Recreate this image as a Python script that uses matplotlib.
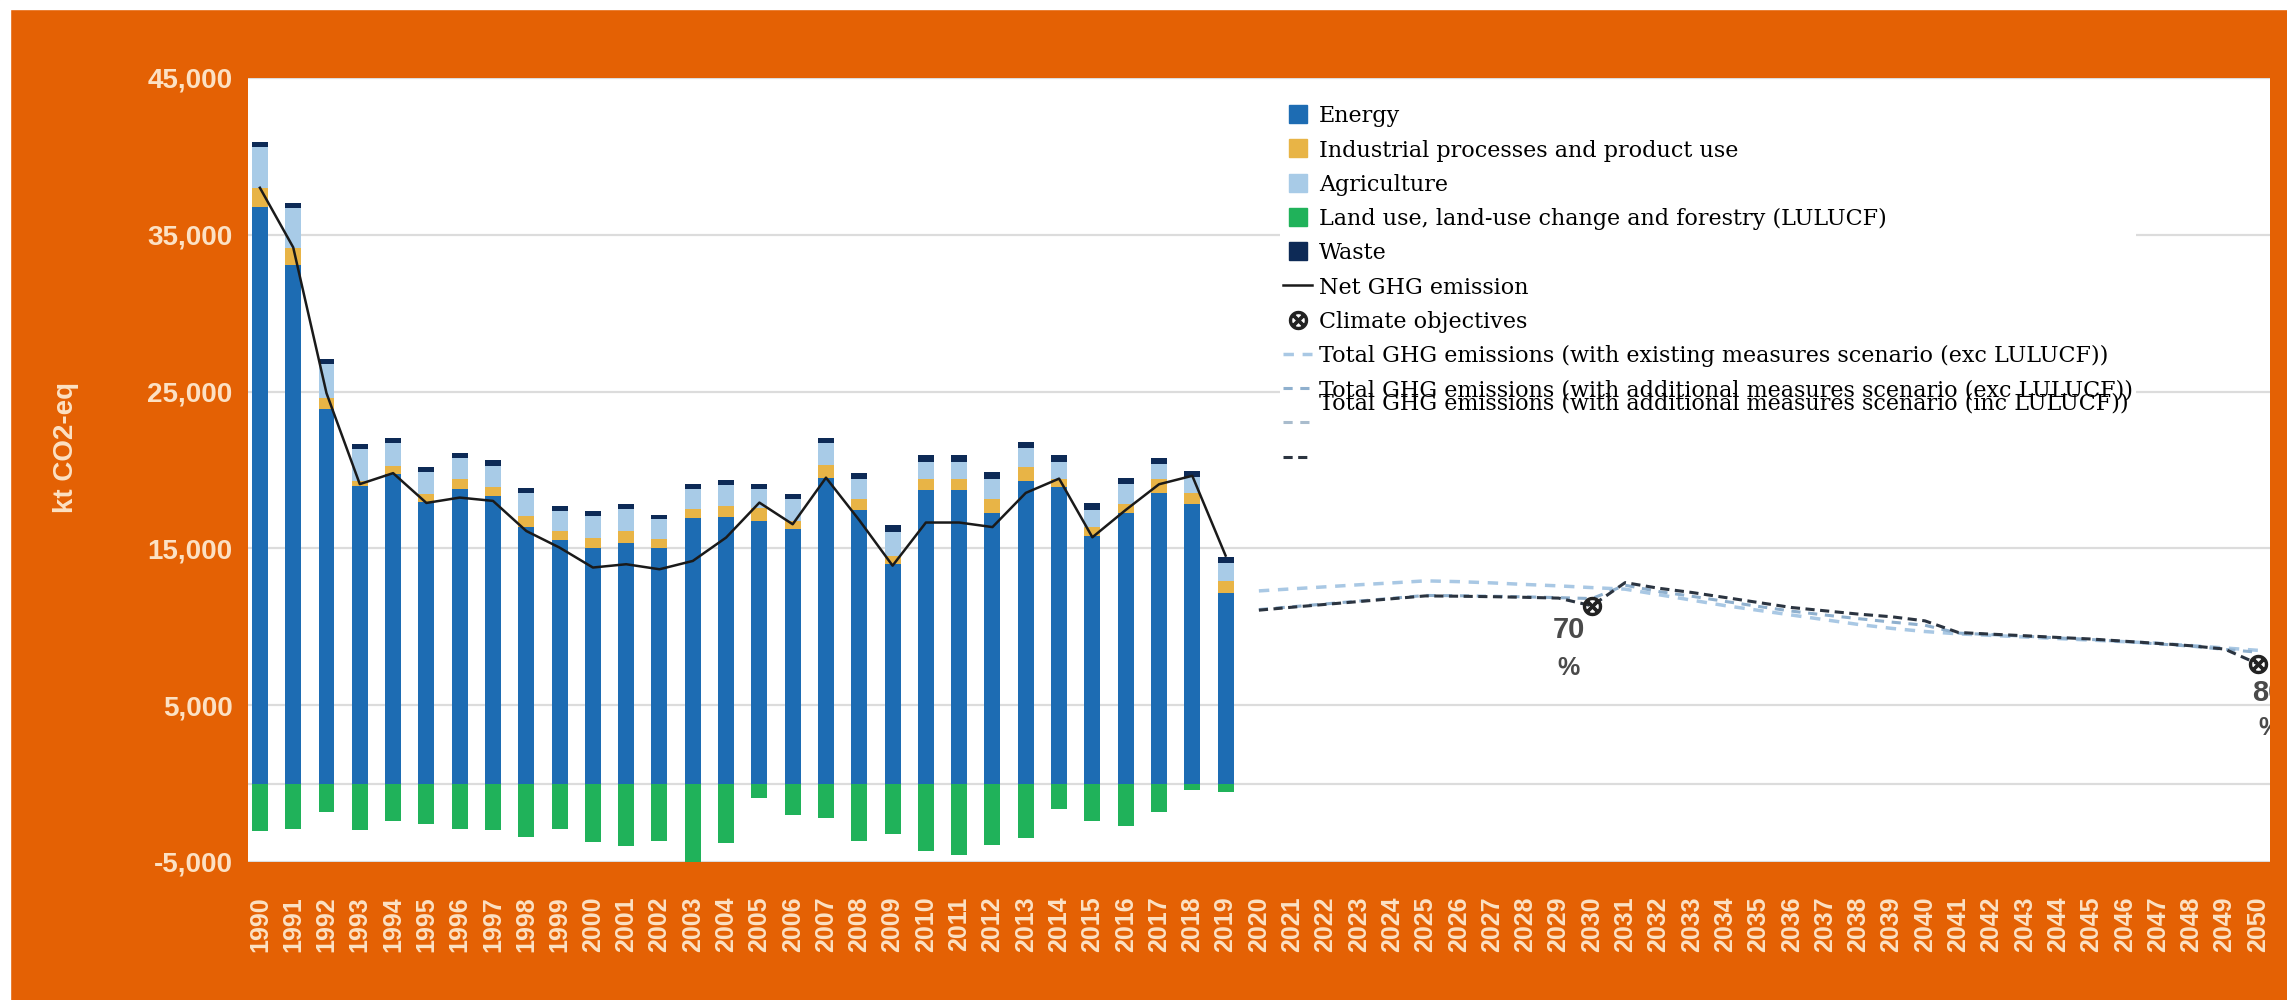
import matplotlib
matplotlib.use('Agg')  # no display
import matplotlib.pyplot as plt
from matplotlib.lines import Line2D
from matplotlib.patches import Rectangle
import numpy as np

# categories
years = list(range(1990, 2051))

# historical sectors, kt CO2-eq, 1990-2019
energy = [36800, 33100, 23900, 19000, 19750, 17980, 18770, 18340, 16370, 15520,
          15050, 15370, 15050, 16960, 17000, 16750, 16220, 19510, 17450, 14000,
          18730, 18730, 17270, 19270, 18900, 15820, 17270, 18540, 17820, 12180]
industry = [1170, 1060, 700, 300, 500, 490, 630, 580, 700, 590,
            640, 740, 530, 540, 700, 850, 530, 840, 730, 540,
            720, 720, 910, 910, 550, 540, 550, 910, 720, 730]
agriculture = [2660, 2550, 2150, 2030, 1490, 1420, 1380, 1330, 1480, 1280,
               1380, 1390, 1280, 1270, 1340, 1170, 1380, 1390, 1270, 1530,
               1090, 1090, 1270, 1200, 1090, 1090, 1270, 910, 1020, 1160]
waste = [320, 320, 320, 320, 320, 300, 320, 360, 320, 310,
         320, 310, 270, 320, 300, 320, 320, 320, 380, 400,
         420, 420, 400, 400, 420, 420, 420, 420, 400, 400]
lulucf = [-3000, -2880, -1830, -2990, -2360, -2570, -2880, -2990, -3420, -2880,
          -3740, -3950, -3670, -5000, -3820, -910, -2000, -2180, -3640, -3200,
          -4290, -4550, -3930, -3450, -1640, -2360, -2730, -1820, -440, -545]
net_ghg = [38000, 34200, 24900, 19100, 19800, 17900, 18240, 18030, 16110, 15050,
           13780, 13990, 13670, 14200, 15690, 17920, 16540, 19510, 16800, 13900,
           16650, 16650, 16360, 18540, 19450, 15710, 17450, 19090, 19630, 14540]

# projections 2020-2050
wem_exc = [12290, 12420, 12550, 12680, 12800, 12930, 12880, 12800, 12700, 12610,
           12500, 12400, 12050, 11700, 11350, 11050, 10750, 10450, 10150, 9900,
           9700, 9550, 9450, 9350, 9250, 9150, 9050, 8950, 8800, 8650, 8500]
wam_exc = [11100, 11280, 11460, 11640, 11820, 12000, 11980, 11950, 11910, 11860,
           11800, 12650, 12250, 11950, 11620, 11300, 11000, 10750, 10520, 10300,
           10100, 9600, 9500, 9400, 9290, 9190, 9050, 8910, 8760, 8560, 8380]
wam_net = [11060, 11250, 11430, 11610, 11790, 11970, 11950, 11920, 11880, 11830,
           11340, 12820, 12460, 12190, 11870, 11550, 11230, 11020, 10810, 10640,
           10380, 9640, 9530, 9430, 9320, 9220, 9080, 8940, 8790, 8580, 7640]

# climate objectives
goal_years = [2030, 2050]
goal_values = [11340, 7640]
goal_labels = ['70', '80']

ORANGE = '#E46104'
PEACH = '#FCE1C4'
C_ENERGY = '#1D6CB3'
C_IND = '#E8B446'
C_AGR = '#A8CBE7'
C_LUL = '#20B25A'
C_WASTE = '#0D2A56'

x_hist = np.arange(len(energy))
x_proj = np.arange(len(energy), len(years))
width = 0.48

fig = plt.figure(figsize=(22.87, 10), dpi=100, facecolor=ORANGE)
fig.patches.append(Rectangle((0, 0.991), 1, 0.009, transform=fig.transFigure,
                             color='white', zorder=0))
fig.patches.append(Rectangle((0, 0), 10 / 2287, 1, transform=fig.transFigure,
                             color='white', zorder=0))

ax = fig.add_axes([0.1084, 0.138, 0.8841, 0.784])
ax.set_facecolor('white')

e = np.array(energy)
i = np.array(industry)
a = np.array(agriculture)
ax.bar(x_hist, energy, width, color=C_ENERGY, zorder=3)
ax.bar(x_hist, industry, width, bottom=e, color=C_IND, zorder=3)
ax.bar(x_hist, agriculture, width, bottom=e + i, color=C_AGR, zorder=3)
ax.bar(x_hist, waste, width, bottom=e + i + a, color=C_WASTE, zorder=3)
ax.bar(x_hist, lulucf, width, color=C_LUL, zorder=3)

ax.plot(x_hist, net_ghg, color='#1a1a1a', lw=1.8, zorder=4)

ax.plot(x_proj, wem_exc, color='#A9C8E4', lw=2.5, ls=(0, (3, 2.5)), zorder=4)
ax.plot(x_proj, wam_exc, color='#8FB0CE', lw=2.2, ls=(0, (3, 2.5)), zorder=4)
ax.plot(x_proj, wam_net, color='#2b3440', lw=2.2, ls=(0, (3, 1.8)), zorder=4)

gx = [years.index(y) for y in goal_years]
ax.plot(gx, goal_values, ls='', marker=r'$\otimes$', ms=13, color='#222222', zorder=5)
for xg, lab in zip(gx, goal_labels):
    ax.text(xg - 0.7 if lab == '70' else xg + 0.3, 9800 if lab == '70' else 5800, lab,
            ha='center', va='center', fontsize=21, fontweight='bold',
            family='Liberation Sans', color='#4a4a4a', clip_on=True, zorder=5)
    ax.text(xg - 0.7 if lab == '70' else xg + 0.35, 7400 if lab == '70' else 3550, '%',
            ha='center', va='center', fontsize=18, fontweight='bold',
            family='Liberation Sans', color='#4a4a4a', clip_on=True, zorder=5)

ax.set_xlim(-0.36, 60.36)
ax.set_ylim(-5000, 45000)
yt = list(range(-5000, 45001, 10000))
ax.set_yticks(yt)
ax.set_yticklabels([f'{v:,}' for v in yt])
ax.set_xticks(np.arange(len(years)))
ax.set_xticklabels([str(y) for y in years], rotation=90)
ax.yaxis.grid(True, color='#DCDCDC', lw=1.6, zorder=0)
ax.axhline(0, color='#DCDCDC', lw=1.6, zorder=1)
ax.set_axisbelow(True)
for s in ax.spines.values():
    s.set_visible(False)
ax.tick_params(axis='both', length=0, colors=PEACH)
ax.tick_params(axis='x', pad=25)
ax.tick_params(axis='y', pad=11)
for t in ax.get_yticklabels():
    t.set_fontsize(20)
    t.set_fontweight('bold')
    t.set_family('Liberation Sans')
for t in ax.get_xticklabels():
    t.set_fontsize(18)
    t.set_fontweight('bold')
    t.set_family('Liberation Sans')

fig.text(66 / 2287, 1 - 447 / 1000, 'kt CO2-eq', rotation=90, ha='center', va='center',
         fontsize=20, fontweight='bold', family='Liberation Sans', color=PEACH)

# legend
def sq(c):
    return Line2D([], [], ls='', marker='s', ms=13, color=c)

handles = [sq(C_ENERGY), sq(C_IND), sq(C_AGR), sq(C_LUL), sq(C_WASTE),
           Line2D([], [], color='#1a1a1a', lw=1.8),
           Line2D([], [], ls='', marker=r'$\otimes$', ms=13, color='#222222'),
           Line2D([], [], color='#A9C8E4', lw=2.5, ls=(0, (3, 2.5))),
           Line2D([], [], color='#8FB0CE', lw=2.2, ls=(0, (3, 2.5))),
           Line2D([], [], color='#A9BCCD', lw=2.2, ls=(0, (3, 2.5))),
           Line2D([], [], color='#2b3440', lw=2.2, ls=(0, (3, 1.8)))]
labels = ['Energy', 'Industrial processes and product use', 'Agriculture',
          'Land use, land-use change and forestry (LULUCF)', 'Waste',
          'Net GHG emission', 'Climate objectives',
          'Total GHG emissions (with existing measures scenario (exc LULUCF))',
          'Total GHG emissions (with additional measures scenario (exc LULUCF))',
          ' ', ' ']
leg_font = {'family': 'DejaVu Serif', 'size': 16}
leg = ax.legend(handles, labels, loc='upper left', bbox_to_anchor=(1280 / 2287, 0.898),
                bbox_transform=fig.transFigure, frameon=True, facecolor='white',
                edgecolor='none', framealpha=1, fancybox=False, prop=leg_font,
                handlelength=1.3, handleheight=0.8, handletextpad=0.3,
                labelspacing=0.55, borderpad=0.15, borderaxespad=0)
leg.set_zorder(6)

# overlapped third scenario label, drawn over the previous row like the original
fig.canvas.draw()
bb = leg.get_texts()[8].get_window_extent()
W, H = fig.get_size_inches() * fig.dpi
fig.text(bb.x0 / W, ((bb.y0 + bb.y1) / 2 - 13) / H,
         'Total GHG emissions (with additional measures scenario (inc LULUCF))',
         ha='left', va='center', fontsize=16, family='DejaVu Serif', color='black',
         zorder=7)

fig.savefig('out.png', dpi=100, facecolor=ORANGE)
